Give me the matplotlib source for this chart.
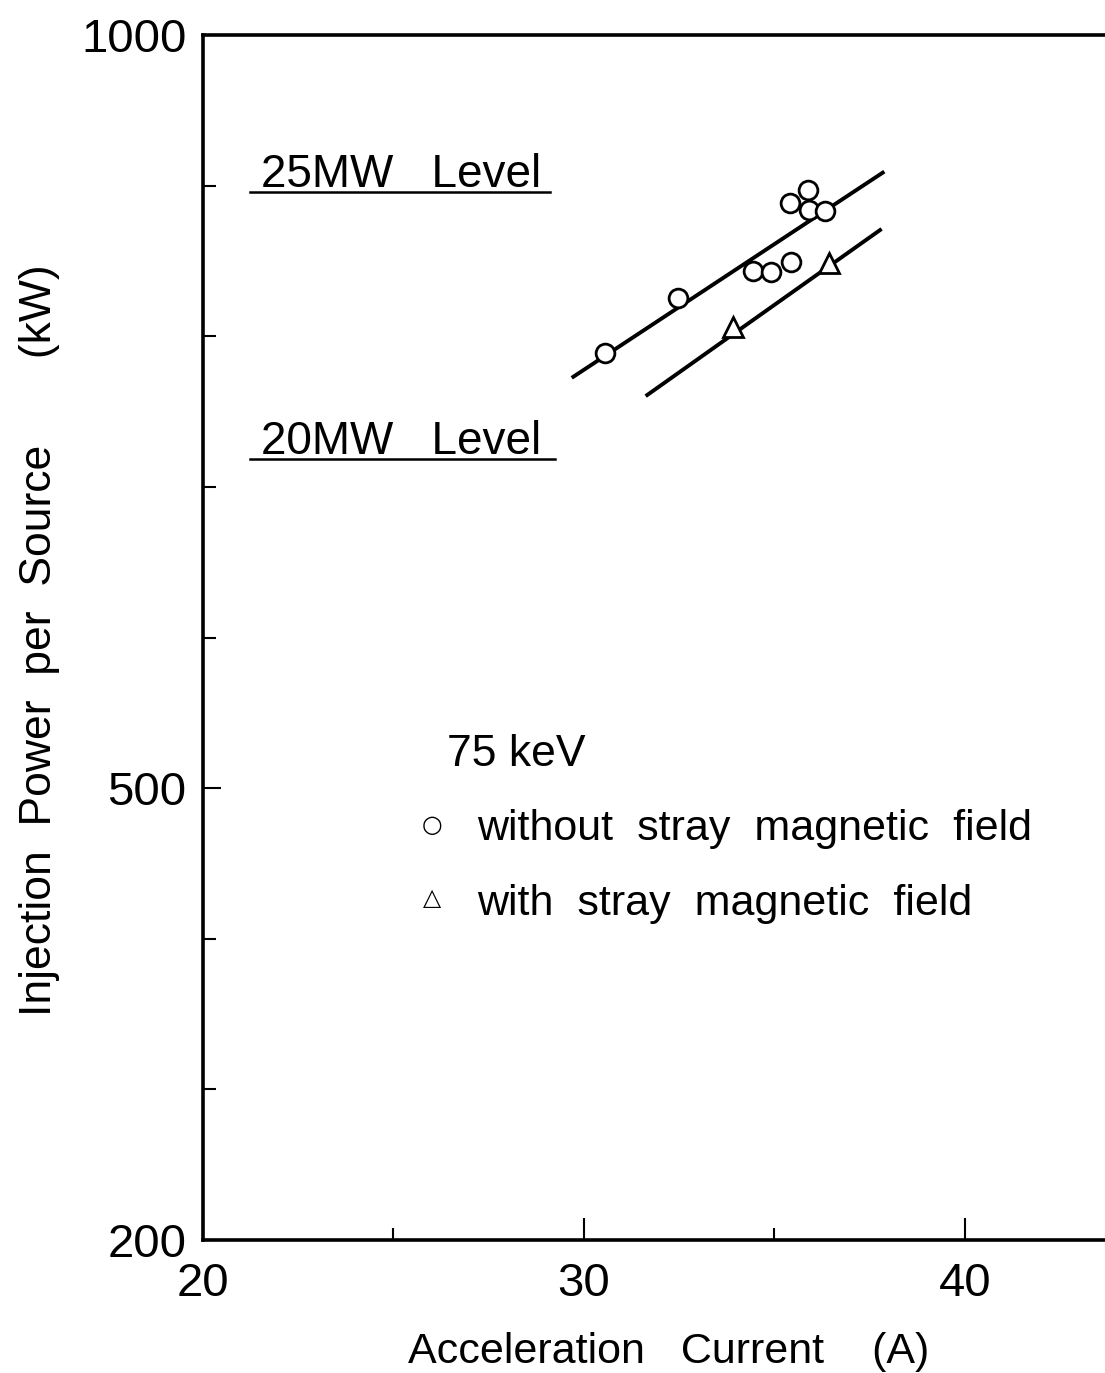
import matplotlib
matplotlib.use("Agg")
import matplotlib.pyplot as plt

plt.rcParams['font.family'] = ['Liberation Sans', 'DejaVu Sans']

# measured points, 75 keV beam
no_field_current = [30.55, 32.46, 34.44, 34.90, 35.43, 35.41, 35.89, 35.91, 36.33]
no_field_power = [788.6, 825.2, 843.5, 842.8, 849.1, 888.6, 897.1, 883.8, 883.1]
field_current = [33.92, 36.44]
field_power = [806.3, 848.4]

# fitted straight lines drawn through each set
fit_no_field_x = [29.72, 37.84]
fit_no_field_y = [773.1, 908.6]
fit_field_x = [31.66, 37.77]
fit_field_y = [761.0, 870.5]

# total-power reference levels
level_names = ["25MW   Level", "20MW   Level"]
level_power = [895.8, 718.4]
level_x0 = [21.23, 21.23]
level_x1 = [29.11, 29.24]

xticks = [20, 30, 40]
xminor = [25, 35]
yticks = [200, 500, 1000]
yminor = [300, 400, 600, 700, 800, 900]

fig = plt.figure(figsize=(11.05, 13.73), dpi=100)
ax = fig.add_axes([203 / 1105, 1 - 1240 / 1373, 1 - 203 / 1105, (1240 - 35) / 1373])

ax.plot(fit_no_field_x, fit_no_field_y, color='black', lw=2.8, zorder=2)
ax.plot(fit_field_x, fit_field_y, color='black', lw=2.8, zorder=2)
ax.plot(no_field_current, no_field_power, 'o', ms=13.5, mfc='white', mec='black', mew=2.0,
        zorder=3)
ax.plot(field_current, field_power, '^', ms=14.5, mfc='white', mec='black', mew=2.0,
        zorder=3)

for name, p, x0, x1 in zip(level_names, level_power, level_x0, level_x1):
    ax.plot([x0, x1], [p, p], color='black', lw=1.8)
    ax.text(x0 + 0.3, p + 3.5, name, fontsize=33, va='baseline', ha='left')

ax.text(26.4, 515, "75 keV", fontsize=32, va='baseline')
ax.text(26.01, 475.4, "○", fontsize=17, va='center', ha='center', family='DejaVu Sans')
ax.text(27.2, 465.5, "without  stray  magnetic  field", fontsize=31, va='baseline')
ax.text(26.01, 427, "△", fontsize=17, va='center', ha='center', family='DejaVu Sans')
ax.text(27.2, 415.7, "with  stray  magnetic  field", fontsize=31, va='baseline')

ax.set_xlim(20, 20 + 902 / 38.1)
ax.set_ylim(200, 1000)
ax.set_xticks(xticks)
ax.set_xticks(xminor, minor=True)
ax.set_yticks(yticks)
ax.set_yticks(yminor, minor=True)
ax.set_xticklabels([str(t) for t in xticks], fontsize=34)
ax.set_yticklabels([str(t) for t in yticks], fontsize=34)
ax.tick_params(axis='x', which='major', direction='in', length=16, width=1.5, pad=16)
ax.tick_params(axis='x', which='minor', direction='in', length=9, width=1.5)
ax.tick_params(axis='y', which='minor', direction='in', length=9, width=1.5)
ax.tick_params(axis='y', which='major', direction='in', length=13, width=1.5, pad=12)

ax.spines['right'].set_visible(False)
for side in ['left', 'top', 'bottom']:
    ax.spines[side].set_linewidth(2.6)

fig.text(669 / 1105, 1 - 1352 / 1373, "Acceleration   Current    (A)", fontsize=31,
         ha='center', va='center')
fig.text(40 / 1105, 1 - 640 / 1373, "Injection  Power  per  Source       (kW)", fontsize=32,
         ha='center', va='center', rotation=90)

fig.savefig("out.png", dpi=100)
